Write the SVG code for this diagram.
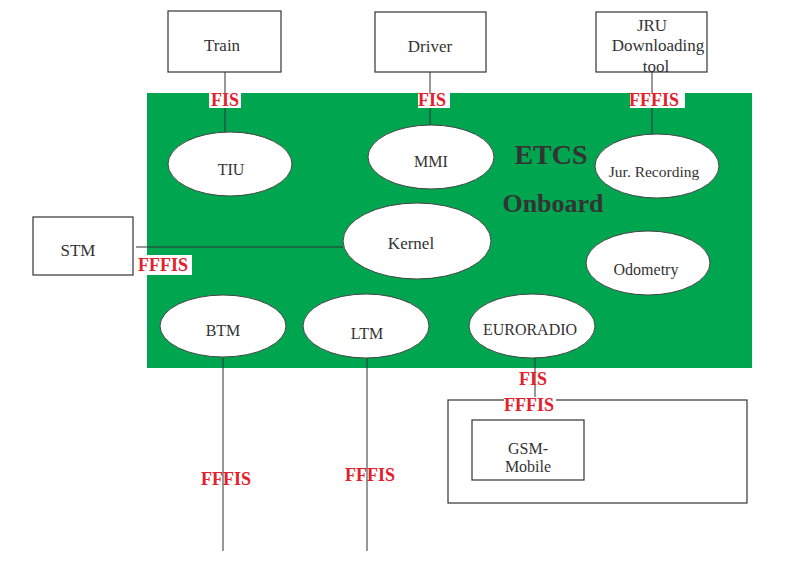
<svg xmlns="http://www.w3.org/2000/svg" width="796" height="562" viewBox="0 0 796 562">
<style>
  .box{fill:#fff;stroke:#333;stroke-width:1.2}
  .ell{fill:#fff;stroke:#444;stroke-width:1}
  .t{font-family:"Liberation Serif",serif;fill:#333;text-anchor:middle}
  .lbl{font-family:"Liberation Serif",serif;font-weight:bold;font-size:18px;fill:#E3202C;text-anchor:middle}
  .bg{fill:#fff}
  .ln{stroke:#333;stroke-width:1;fill:none}
</style>
<rect width="796" height="562" fill="#fff"/>
<rect id="etcs-onboard" x="147" y="93" width="605" height="275" fill="#00A550"/>
<g id="connectors">
  <line class="ln" x1="225" y1="72" x2="225" y2="132"/>
  <line class="ln" x1="430" y1="70" x2="430" y2="129"/>
  <line class="ln" x1="652" y1="72" x2="652" y2="135"/>
  <line class="ln" x1="136" y1="247" x2="343" y2="247"/>
  <line class="ln" x1="535" y1="358" x2="535" y2="400"/>
</g>
<g id="labels-top">
  <rect class="bg" x="209" y="93" width="32" height="15"/>
  <text class="lbl" x="225" y="106">FIS</text>
  <rect class="bg" x="418" y="93" width="32" height="15"/>
  <text class="lbl" x="432" y="106">FIS</text>
  <rect class="bg" x="630" y="93" width="55" height="15"/>
  <text class="lbl" x="654" y="106">FFFIS</text>
</g>
<g id="train"><rect class="box" x="168" y="11" width="113" height="61"/><text class="t" x="222" y="51" font-size="17">Train</text></g>
<g id="driver"><rect class="box" x="375" y="12" width="111" height="60"/><text class="t" x="430" y="52" font-size="17">Driver</text></g>
<g id="jru"><rect class="box" x="596" y="12" width="111" height="60"/>
  <text class="t" x="652" y="31" font-size="17">JRU</text>
  <text class="t" x="658" y="51" font-size="17">Downloading</text>
  <text class="t" x="656" y="72" font-size="17">tool</text></g>
<g id="tiu"><ellipse class="ell" cx="230" cy="164" rx="62" ry="32"/><text class="t" x="231" y="175" font-size="16">TIU</text></g>
<g id="mmi"><ellipse class="ell" cx="431" cy="157" rx="63" ry="32"/><text class="t" x="431" y="167" font-size="16">MMI</text></g>
<g id="jur"><ellipse class="ell" cx="657" cy="166" rx="62" ry="32"/><text class="t" x="654" y="177" font-size="15.5">Jur. Recording</text></g>
<g id="title">
  <text class="t" x="551" y="164" font-size="28" font-weight="bold">ETCS</text>
  <text class="t" x="553" y="212" font-size="26" font-weight="bold">Onboard</text>
</g>
<g id="kernel"><ellipse class="ell" cx="417" cy="241" rx="74" ry="38"/><text class="t" x="411" y="249" font-size="17">Kernel</text></g>
<g id="odometry"><ellipse class="ell" cx="648" cy="263" rx="62" ry="32"/><text class="t" x="646" y="275" font-size="16">Odometry</text></g>
<g id="stm"><rect class="box" x="33" y="217" width="100" height="58"/><text class="t" x="78" y="256" font-size="17">STM</text></g>
<g id="stm-label"><rect class="bg" x="137" y="255" width="55" height="20"/><text class="lbl" x="163" y="271">FFFIS</text></g>
<g id="btm"><ellipse class="ell" cx="223" cy="326" rx="63" ry="31"/><text class="t" x="223" y="336" font-size="16">BTM</text></g>
<g id="ltm"><ellipse class="ell" cx="366" cy="326" rx="63" ry="32"/><text class="t" x="367" y="339" font-size="16">LTM</text></g>
<g id="euroradio"><ellipse class="ell" cx="532" cy="326" rx="63" ry="32"/><text class="t" x="530" y="335" font-size="16">EURORADIO</text></g>
<g id="gsm-outer">
  <rect class="box" x="448" y="400" width="299" height="103"/>
  <rect class="bg" x="504" y="397" width="52" height="16"/>
</g>
<g id="gsm"><rect class="box" x="472" y="420" width="112" height="60"/>
  <text class="t" x="528" y="454" font-size="16">GSM-</text>
  <text class="t" x="528" y="472" font-size="16">Mobile</text></g>
<g id="euroradio-labels">
  <text class="lbl" x="533" y="385">FIS</text>
  <text class="lbl" x="529" y="411">FFFIS</text>
</g>
<g id="bottom-labels">
  <text class="lbl" x="226" y="485">FFFIS</text>
  <text class="lbl" x="370" y="481">FFFIS</text>
</g>
<g id="connectors-bottom">
  <line class="ln" x1="223" y1="358" x2="223" y2="551"/>
  <line class="ln" x1="367" y1="358" x2="367" y2="551"/>
</g>
</svg>
